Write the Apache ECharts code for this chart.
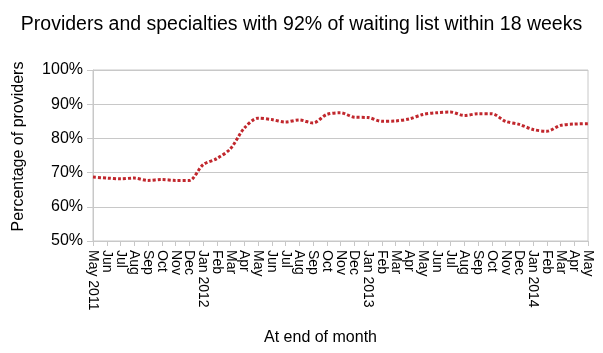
<!DOCTYPE html>
<html>
<head>
<meta charset="utf-8">
<script src="https://cdn.jsdelivr.net/npm/echarts@6/dist/echarts.min.js"></script>
<style>
  html, body { margin: 0; padding: 0; background: #fff; }
  #chart { width: 603px; height: 353px; }
</style>
</head>
<body>
<div id="chart"></div>
<script>
var months = ['May 2011', 'Jun', 'Jul', 'Aug', 'Sep', 'Oct', 'Nov', 'Dec',
    'Jan 2012', 'Feb', 'Mar', 'Apr', 'May', 'Jun', 'Jul', 'Aug', 'Sep', 'Oct', 'Nov', 'Dec',
    'Jan 2013', 'Feb', 'Mar', 'Apr', 'May', 'Jun', 'Jul', 'Aug', 'Sep', 'Oct', 'Nov', 'Dec',
    'Jan 2014', 'Feb', 'Mar', 'Apr', 'May'];
var percentWithin = [68.7, 68.4, 68.2, 68.4, 67.7, 68.0, 67.7, 67.7,
    72.3, 74.1, 77.0, 83.0, 85.9, 85.5, 84.8, 85.4, 84.5, 87.0, 87.5, 86.2,
    86.1, 85.0, 85.1, 85.7, 87.0, 87.5, 87.7, 86.7, 87.2, 87.2, 85.0, 84.1,
    82.6, 82.1, 83.8, 84.2, 84.3];

var chart = echarts.init(document.getElementById('chart'));
var font = 'Liberation Sans, Arial, Helvetica, sans-serif';

chart.setOption({
    animation: false,
    backgroundColor: '#fff',
    textStyle: { fontFamily: font },
    title: {
        text: 'Providers and specialties with 92% of waiting list within 18 weeks',
        left: 'center',
        top: 10,
        textStyle: { fontFamily: font, fontSize: 19.5, fontWeight: 'normal', color: '#000' }
    },
    grid: {
        left: 93, right: 15, top: 70, bottom: 112,
        show: true, borderColor: '#c8c8c8', borderWidth: 1
    },
    xAxis: {
        type: 'category',
        data: months,
        boundaryGap: false,
        name: 'At end of month',
        nameLocation: 'middle',
        nameGap: 89,
        nameTextStyle: { fontSize: 16, color: '#000', padding: [0, 40, 0, 0] },
        axisLine: { lineStyle: { color: '#c8c8c8' } },
        axisTick: { length: 5, lineStyle: { color: '#c8c8c8' } },
        axisLabel: { rotate: -90, interval: 0, fontSize: 14, color: '#000', margin: 9 }
    },
    yAxis: {
        type: 'value',
        min: 50, max: 100, interval: 10,
        name: 'Percentage of providers',
        nameLocation: 'middle',
        nameGap: 66,
        nameTextStyle: { fontSize: 16, color: '#000', padding: [0, 0, 0, 18] },
        axisLine: { show: true, lineStyle: { color: '#c8c8c8' } },
        axisTick: { show: true, length: 6, lineStyle: { color: '#c8c8c8' } },
        splitLine: { lineStyle: { color: '#c8c8c8' } },
        axisLabel: { fontSize: 16, color: '#000', margin: 10, formatter: '{value}%' }
    },
    series: [{
        type: 'line',
        data: percentWithin,
        smooth: 0.3,
        symbol: 'none',
        lineStyle: { color: '#c1272d', width: 3, type: [3, 2] }
    }]
});
</script>
</body>
</html>
